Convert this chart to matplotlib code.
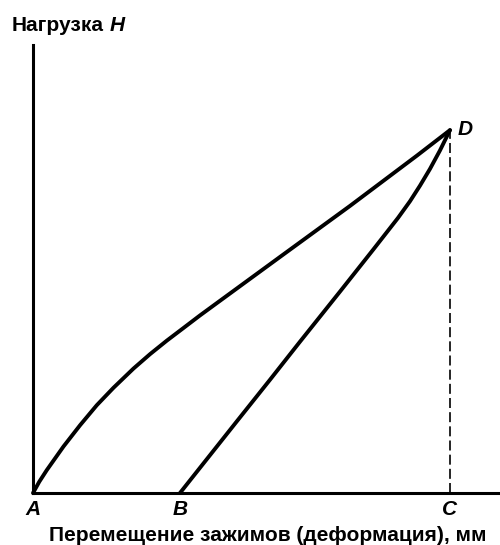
import matplotlib
matplotlib.use('Agg')
import matplotlib.pyplot as plt

# Кривая нагружения A -> D (перемещение и нагрузка в долях от точки D)
load_x = [0.0, 0.015, 0.033, 0.073, 0.113, 0.153, 0.193, 0.241, 0.281, 0.321,
          0.360, 0.400, 0.444, 0.600, 0.760, 0.921, 1.0]
load_y = [0.0, 0.031, 0.063, 0.128, 0.187, 0.242, 0.290, 0.343, 0.383, 0.420,
          0.454, 0.489, 0.526, 0.657, 0.791, 0.930, 1.0]

# Кривая разгрузки B -> D
unload_x = [0.3525, 0.4084, 0.4885, 0.5683, 0.6403, 0.7362, 0.8161, 0.8753,
            0.9041, 0.9281, 0.9520, 0.9760, 1.0]
unload_y = [0.0, 0.081, 0.197, 0.312, 0.417, 0.555, 0.671, 0.758,
            0.804, 0.847, 0.893, 0.944, 1.0]

# Подписи точек
point_names = ['A', 'B', 'C', 'D']
point_x = [0.0, 0.3525, 1.0, 1.0]
point_y = [0.0, 0.0, 0.0, 1.0]

plt.rcParams['font.family'] = ['Liberation Sans', 'DejaVu Sans']

fig = plt.figure(figsize=(5.0, 5.45), dpi=100)
ax = fig.add_axes([0.066, 0.0954, 0.934, 0.8216])
ax.set_xlim(0, 1.12)
ax.set_ylim(0, 1.234)

ax.plot(load_x, load_y, color='black', lw=2.8, solid_joinstyle='round',
        solid_capstyle='round', clip_on=False)
ax.plot(unload_x, unload_y, color='black', lw=2.8, solid_joinstyle='round',
        solid_capstyle='round', clip_on=False)

# пунктир D -> C
ax.plot([point_x[2], point_x[3]], [point_y[2], point_y[3]], color='black', lw=1.2,
        dashes=(6, 2.5), clip_on=False)

for sp in ['top', 'right']:
    ax.spines[sp].set_visible(False)
for sp in ['left', 'bottom']:
    ax.spines[sp].set_linewidth(2.2)
ax.set_xticks([])
ax.set_yticks([])

fs = 15
for name, px, py in zip(point_names[:3], point_x[:3], point_y[:3]):
    ax.text(px, -0.0606, name, style='italic', weight='bold', fontsize=fs,
            ha='center', va='baseline')
ax.text(1.019, 0.986, point_names[3], style='italic', weight='bold',
        fontsize=fs, ha='left', va='baseline')

t = fig.text(0.024, 0.943, 'Нагрузка', fontsize=fs, weight='bold',
             ha='left', va='baseline')
fig.canvas.draw()
bb = t.get_window_extent().transformed(fig.transFigure.inverted())
fig.text(bb.x1 + 0.012, 0.943, 'H', fontsize=fs, style='italic', weight='bold',
         ha='left', va='baseline')

fig.text(0.536, 0.0075, 'Перемещение зажимов (деформация), мм', fontsize=fs,
         weight='bold', ha='center', va='baseline')

fig.savefig('out.png', dpi=100)
